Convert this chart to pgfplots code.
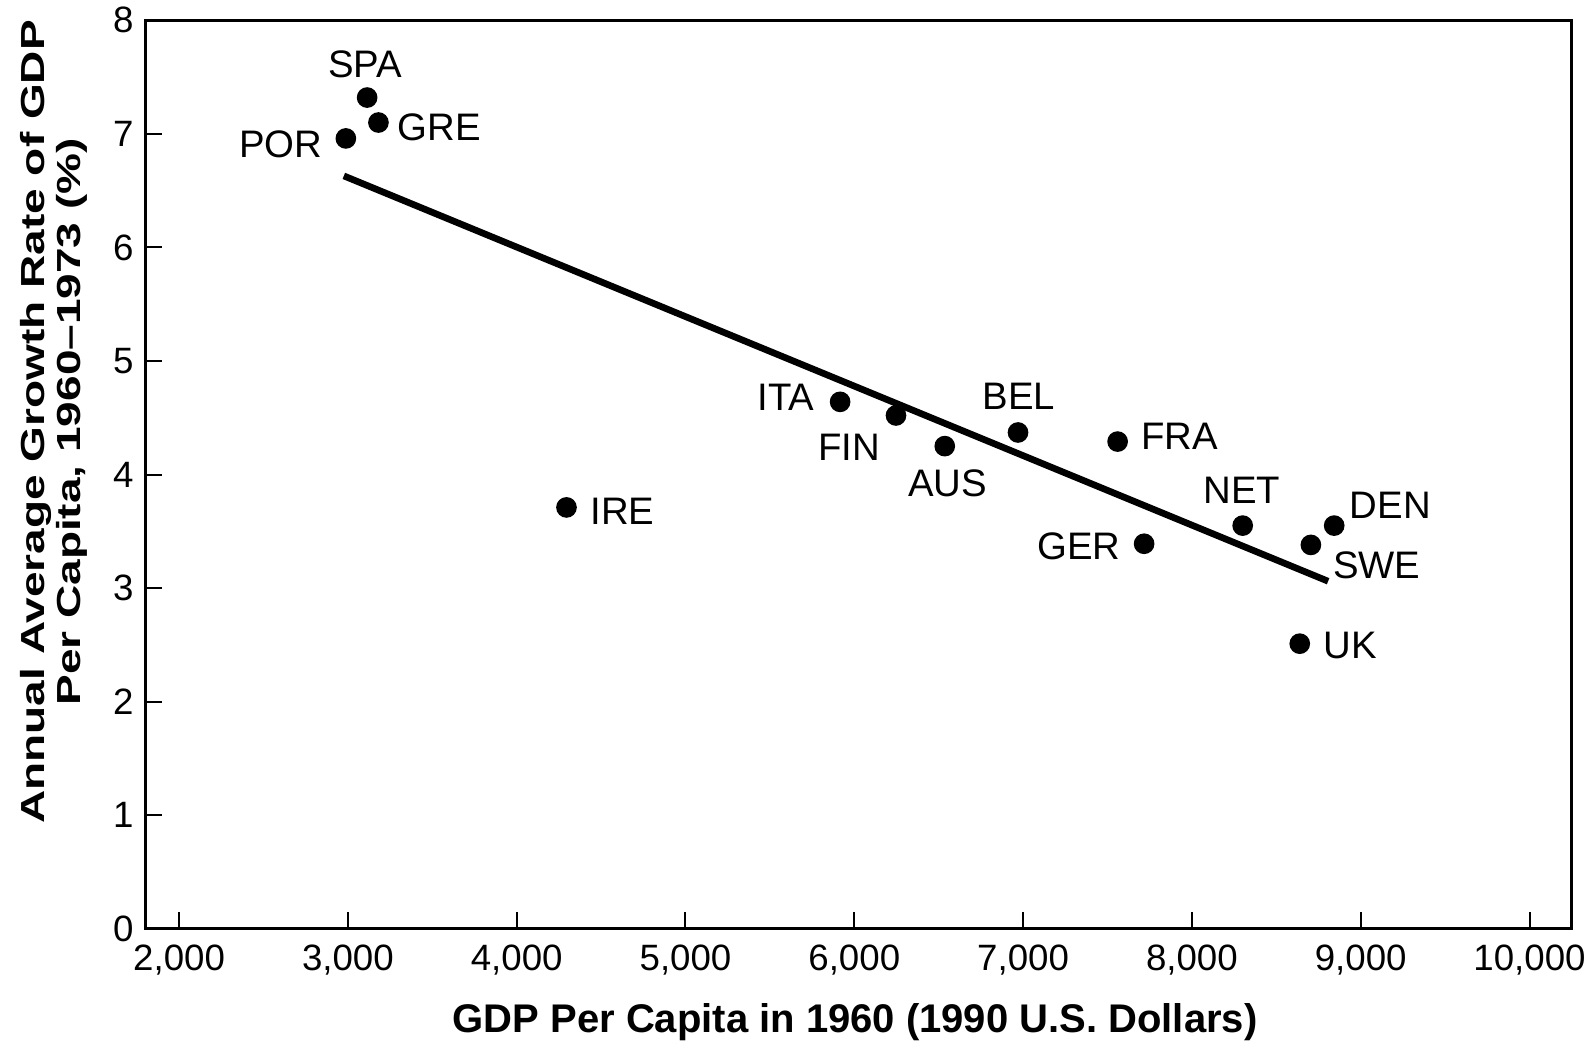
\documentclass[border=0pt]{standalone}
\usepackage{fontspec}
\setmainfont{Liberation Sans}
\newfontfamily\ylabfont[FakeStretch=1.38]{Liberation Sans}
\usepackage{pgfplots}
\pgfplotsset{compat=1.18}

\pgfplotstableread{
x y
3114 7.32
3181 7.10
2988 6.96
4295 3.71
5916 4.64
6247 4.52
6536 4.25
6970 4.37
7560 4.29
7717 3.39
8301 3.55
8705 3.38
8843 3.55
8639 2.51
}\pts

\begin{document}
\begin{tikzpicture}
\begin{axis}[
  scale only axis,
  width=427.9pt, height=272.5pt,
  xmin=1800, xmax=10250, ymin=0, ymax=8,
  xtick={2000,3000,...,10000}, ytick={0,1,...,8},
  tick align=inside,
  xtick pos=bottom, ytick pos=left,
  major tick length=5pt,
  axis line style={line width=0.8pt},
  tick style={line width=0.6pt, black},
  scaled x ticks=false,
  /pgf/number format/assume math mode=true,
  xticklabel style={/pgf/number format/1000 sep={,}, yshift=-1.2pt},
  ticklabel style={font=\fontsize{11}{13}\selectfont},
  xlabel={GDP Per Capita in 1960 (1990 U.S. Dollars)},
  xlabel style={font=\bfseries\fontsize{12}{14}\selectfont, inner sep=0pt, at={(axis description cs:0.4976,0)}, anchor=north, yshift=-22.4pt},
  ylabel={Annual Average Growth Rate of GDP\\Per Capita, 1960–1973 (\%)},
  ylabel style={align=center, font=\ylabfont\bfseries\fontsize{10}{10.8}\selectfont, inner sep=0pt, at={(axis description cs:-0.040,0.558)}, anchor=south},
  clip=false,
]
\addplot[only marks, mark=*, mark size=2.9pt, black] table {\pts};
\addplot[black, line width=2pt] coordinates {(2976,6.63) (8807,3.06)};
\begin{scope}[every node/.style={font=\fontsize{11.5}{13}\selectfont, inner sep=0pt}]
\node at (axis cs:3102,7.61) {SPA};
\node at (axis cs:3542,7.06) {GRE};
\node at (axis cs:2602,6.91) {POR};
\node at (axis cs:4627,3.68) {IRE};
\node at (axis cs:5596,4.68) {ITA};
\node at (axis cs:5970,4.24) {FIN};
\node at (axis cs:6554,3.92) {AUS};
\node at (axis cs:6976,4.69) {BEL};
\node at (axis cs:7928,4.34) {FRA};
\node at (axis cs:7331,3.37) {GER};
\node at (axis cs:8295,3.86) {NET};
\node at (axis cs:9175,3.73) {DEN};
\node at (axis cs:9096,3.20) {SWE};
\node at (axis cs:8940,2.49) {UK};
\end{scope}
\end{axis}
\pgfresetboundingbox
\path ([xshift=-43.6pt,yshift=-34.9pt]current axis.south west) rectangle ([xshift=7pt,yshift=6.1pt]current axis.north east);
\end{tikzpicture}
\end{document}
